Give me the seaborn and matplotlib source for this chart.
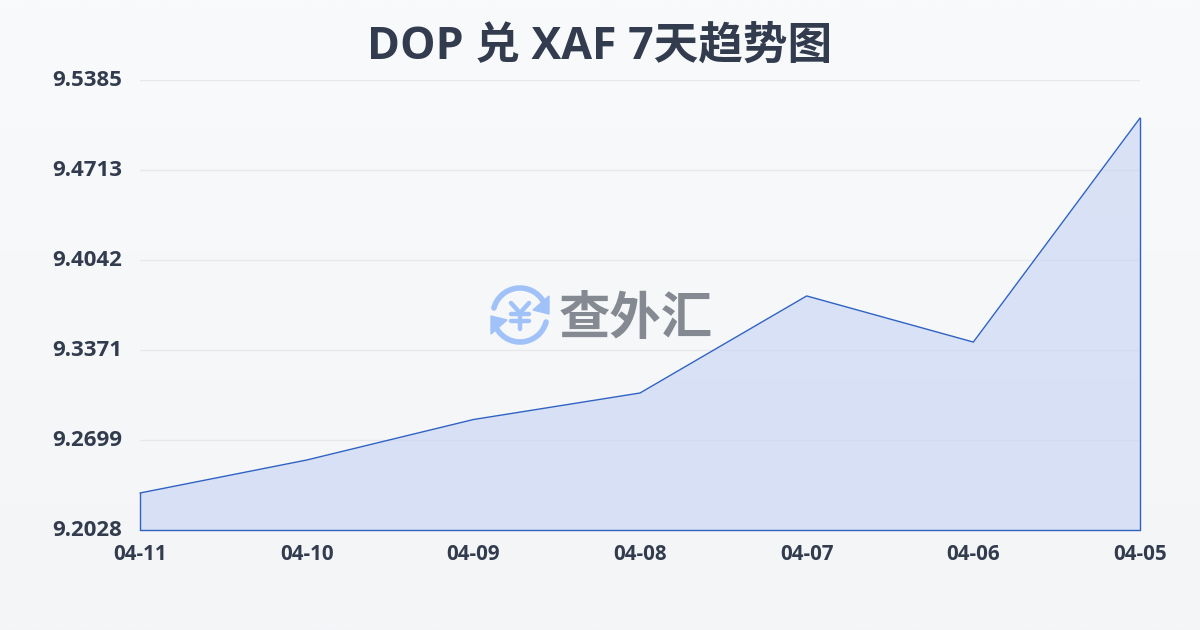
import numpy as np
import pandas as pd
import matplotlib
matplotlib.use("Agg")
import matplotlib.pyplot as plt
from matplotlib.patches import Arc, Polygon
from matplotlib.transforms import ScaledTranslation
import seaborn as sns

dates = ["04-11", "04-10", "04-09", "04-08", "04-07", "04-06", "04-05"]
rates = [9.2304, 9.2550, 9.2852, 9.3050, 9.3774, 9.3430, 9.5101]
y_ticks = [9.2028, 9.2699, 9.3371, 9.4042, 9.4713, 9.5385]
y_labels = ["9.2028", "9.2699", "9.3371", "9.4042", "9.4713", "9.5385"]
title = "DOP 兑 XAF 7天趋势图"
watermark = "查外汇"

sns.set_theme(style="white")
plt.rcParams["font.family"] = ["Open Sans", "Noto Sans CJK SC", "DejaVu Sans"]

W, H = 1200, 630
fig = plt.figure(figsize=(W / 100, H / 100), dpi=100)

bg = fig.add_axes([0, 0, 1, 1], zorder=0)
grad = np.linspace(0, 1, 256)[:, None, None]
top = np.array([249, 250, 251]) / 255
bot = np.array([243, 245, 247]) / 255
bg.imshow(top + (bot - top) * grad, aspect="auto", extent=[0, W, H, 0])
bg.set_xlim(0, W)
bg.set_ylim(H, 0)
bg.axis("off")

ax = fig.add_axes([140 / W, 1 - 530 / H, 1000 / W, 450 / H], zorder=1)
ax.patch.set_alpha(0)
df = pd.DataFrame({"date": dates, "rate": rates})
pos = np.arange(len(dates))
ax.fill_between(pos, rates, y_ticks[0], color="#c8d5f4", alpha=0.64, lw=0, zorder=2)
sns.lineplot(x=pos, y=df["rate"], ax=ax, color="#2f62c4", lw=1.0, zorder=3, sort=False, clip_on=False)
ax.plot([pos[0], pos[0]], [y_ticks[0], rates[0]], color="#2f62c4", lw=1.0, zorder=3, clip_on=False)
ax.plot([pos[-1], pos[-1]], [y_ticks[0], rates[-1]], color="#2f62c4", lw=1.0, zorder=3, clip_on=False)
ax.plot([pos[0], pos[-1]], [y_ticks[0], y_ticks[0]], color="#2f62c4", lw=1.0, zorder=3, clip_on=False)

ax.set_xlim(pos[0], pos[-1])
ax.set_ylim(y_ticks[0], y_ticks[-1])
ax.set_xticks(pos)
ax.set_xticklabels(dates)
ax.set_yticks(y_ticks)
ax.set_yticklabels(y_labels)
ax.set_xlabel("")
ax.set_ylabel("")
for s in ax.spines.values():
    s.set_visible(False)
ax.grid(axis="y", color="#e6e8ec", lw=1)
ax.grid(axis="x", visible=False)
ax.set_axisbelow(True)
ax.tick_params(axis="x", length=8, width=1, color="#e8e6dc", pad=2, labelsize=14.8, labelcolor="#323c4e")
ax.tick_params(axis="y", length=0, pad=13, labelsize=16, labelcolor="#323c4e")
for t in ax.get_xticklabels() + ax.get_yticklabels():
    t.set_fontweight("bold")
    t.set_clip_on(False)
up = ScaledTranslation(0, 2 / 100, fig.dpi_scale_trans)
for t in ax.get_yticklabels():
    t.set_transform(t.get_transform() + up)

fig.text(0.5, 1 - 47.5 / H, title, ha="center", va="center", fontsize=32.1,
         fontweight="bold", color="#323c4e", zorder=5)

# Watermark logo
ov = fig.add_axes([0, 0, 1, 1], zorder=4)
ov.set_xlim(0, W)
ov.set_ylim(H, 0)
ov.axis("off")
ic = "#a0c2f8"
cx, cy = 520, 315
ov.add_patch(Arc((cx, cy), 54, 54, theta1=195, theta2=330, color=ic, lw=4, capstyle="round"))
ov.add_patch(Arc((cx, cy), 54, 54, theta1=15, theta2=150, color=ic, lw=4, capstyle="round"))
ov.add_patch(Polygon([[491, 316], [507, 320], [491, 334]], closed=True, fc=ic, ec=ic, lw=1))
ov.add_patch(Polygon([[549, 314], [533, 310], [549, 296]], closed=True, fc=ic, ec=ic, lw=1))
for seg in ([[511, 303], [520, 313]], [[529, 303], [520, 313]], [[520, 313], [520, 329]],
            [[511, 314], [529, 314]], [[511, 321], [529, 321]]):
    ov.plot(*zip(*seg), color=ic, lw=3.2, solid_capstyle="round")
ov.text(636, 321, watermark, ha="center", va="center", fontsize=37, fontweight="bold", color="#858a92")

fig.savefig("out.png", dpi=100)
